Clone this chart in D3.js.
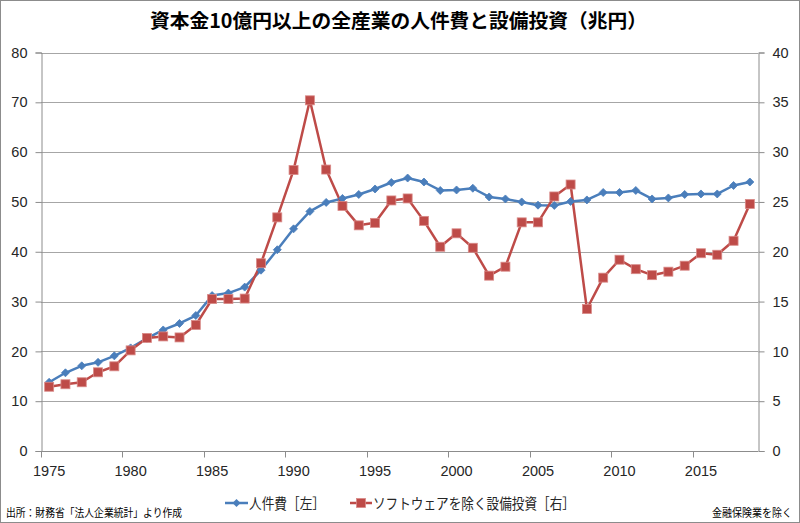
<!DOCTYPE html>
<html><head><meta charset="utf-8">
<script src="https://cdn.jsdelivr.net/npm/d3@7"></script>
<style>body{margin:0;background:#fff}svg{display:block}</style>
</head><body>
<script>
const years = d3.range(1975, 2019);
const personnel = [13.8,15.7,17.1,17.8,19.1,20.7,22.6,24.3,25.6,27.2,31.2,31.7,32.9,36.3,40.4,44.6,48.1,49.9,50.7,51.5,52.6,53.9,54.8,54.0,52.3,52.4,52.75,51.0,50.6,50.0,49.35,49.3,50.1,50.4,51.9,51.9,52.3,50.6,50.8,51.5,51.6,51.6,53.3,54.0];
const capex = [6.45,6.7,6.9,7.9,8.5,10.1,11.35,11.5,11.4,12.65,15.25,15.25,15.3,18.85,23.45,28.2,35.2,28.25,24.6,22.65,22.9,25.15,25.35,23.1,20.5,21.85,20.4,17.6,18.5,22.95,22.95,25.55,26.75,14.25,17.4,19.2,18.25,17.65,18.0,18.6,19.85,19.7,21.1,24.8];
const leftTicks = [0,10,20,30,40,50,60,70,80];
const rightTicks = [0,5,10,15,20,25,30,35,40];
const xLabelYears = [1975,1980,1985,1990,1995,2000,2005,2010,2015];
const title = "資本金10億円以上の全産業の人件費と設備投資（兆円）";
const legendNames = ["人件費［左］","ソフトウェアを除く設備投資［右］"];
const source = "出所：財務省「法人企業統計」より作成";
const note = "金融保険業を除く";

const W=800,H=523;
const blue="#4A7EBB", red="#BE4B48";
const svg=d3.select("body").append("svg").attr("width",W).attr("height",H);
svg.append("rect").attr("x",0.5).attr("y",0.5).attr("width",W-1).attr("height",H-1).attr("fill","#fff").attr("stroke","#8c8c8c");

const L=41,R=758,T=52.5,B=451;
const x=d3.scaleBand().domain(years).range([L,R]);
const yL=d3.scaleLinear().domain([0,80]).range([B,T]);
const yR=d3.scaleLinear().domain([0,40]).range([B,T]);
const cx=d=>x(d)+x.bandwidth()/2;
const font="'Liberation Sans','Noto Sans',sans-serif";
const jfont="'Noto Sans CJK JP',sans-serif";

// gridlines
svg.append("g").selectAll("line").data(leftTicks.slice(1)).join("line")
 .attr("x1",L).attr("x2",R).attr("y1",d=>Math.round(yL(d))+0.5).attr("y2",d=>Math.round(yL(d))+0.5)
 .attr("stroke","#a6a6a6").attr("stroke-width",1);

// left axis
const gl=svg.append("g").attr("transform",`translate(${L+0.5},0)`)
 .call(d3.axisLeft(yL).tickValues(leftTicks).tickSize(6).tickPadding(8));
// right axis
const gr=svg.append("g").attr("transform",`translate(${R+0.5},0)`)
 .call(d3.axisRight(yR).tickValues(rightTicks).tickSize(6).tickPadding(8));
// bottom axis
const tickYears=years.filter(y=>(y-1975)%5===0);
const gb=svg.append("g").attr("transform",`translate(0,${B+0.5})`);
gb.append("line").attr("x1",L).attr("x2",R).attr("stroke","#8c8c8c");
gb.selectAll("line.t").data(tickYears).join("line").attr("class","t")
 .attr("x1",d=>Math.round(x(d))+0.5).attr("x2",d=>Math.round(x(d))+0.5).attr("y1",0).attr("y2",6).attr("stroke","#8c8c8c");
gb.selectAll("text").data(xLabelYears).join("text")
 .attr("x",d=>cx(d)).attr("y",24).attr("text-anchor","middle").text(d=>d);

[gl,gr].forEach(g=>{g.select(".domain").attr("stroke","#8c8c8c");g.selectAll(".tick line").attr("stroke","#8c8c8c");});
svg.selectAll("text").attr("font-family",font).attr("font-size",14.5).attr("fill","#262626");
gl.attr("font-family",font).attr("font-size",14.5);
gr.attr("font-family",font).attr("font-size",14.5);

// lines
const lineL=d3.line().x((d,i)=>cx(years[i])).y(d=>yL(d));
const lineR=d3.line().x((d,i)=>cx(years[i])).y(d=>yR(d));
svg.append("path").datum(personnel).attr("d",lineL).attr("fill","none").attr("stroke",blue).attr("stroke-width",2.5).attr("stroke-linejoin","round");
svg.append("path").datum(capex).attr("d",lineR).attr("fill","none").attr("stroke",red).attr("stroke-width",2.5).attr("stroke-linejoin","round");
// markers
const diamond=(cxv,cyv,s)=>`M${cxv},${cyv-s}L${cxv+s},${cyv}L${cxv},${cyv+s}L${cxv-s},${cyv}Z`;
svg.append("g").selectAll("path").data(personnel).join("path")
 .attr("d",(d,i)=>diamond(cx(years[i]),yL(d),4)).attr("fill",blue).attr("stroke",blue).attr("stroke-width",0.8);
svg.append("g").selectAll("rect").data(capex).join("rect")
 .attr("x",(d,i)=>cx(years[i])-4.5).attr("y",d=>yR(d)-4.5).attr("width",9).attr("height",9)
 .attr("fill",red).attr("stroke","#d98a88").attr("stroke-width",0.8);

// title
svg.append("text").attr("x",150).attr("y",28).attr("textLength",497).attr("lengthAdjust","spacingAndGlyphs")
 .attr("font-family",jfont).attr("font-weight","bold").attr("font-size",19.5).attr("fill","#000").text(title);

// legend
const ly=503;
const lg=svg.append("g");
lg.append("line").attr("x1",225).attr("x2",248).attr("y1",ly).attr("y2",ly).attr("stroke",blue).attr("stroke-width",2.5);
lg.append("path").attr("d",diamond(236.5,ly,4)).attr("fill",blue);
lg.append("text").attr("x",249).attr("y",ly+5.5).attr("textLength",76).attr("lengthAdjust","spacingAndGlyphs")
 .attr("font-family",jfont).attr("font-size",14.5).attr("fill","#262626").text(legendNames[0]);
lg.append("line").attr("x1",350).attr("x2",372).attr("y1",ly).attr("y2",ly).attr("stroke",red).attr("stroke-width",2.5);
lg.append("rect").attr("x",356.5).attr("y",ly-4.5).attr("width",9).attr("height",9).attr("fill",red).attr("stroke","#d98a88").attr("stroke-width",0.8);
lg.append("text").attr("x",373).attr("y",ly+5.5).attr("textLength",202).attr("lengthAdjust","spacingAndGlyphs")
 .attr("font-family",jfont).attr("font-size",14.5).attr("fill","#262626").text(legendNames[1]);

// footer
svg.append("text").attr("x",6).attr("y",517).attr("textLength",176).attr("lengthAdjust","spacingAndGlyphs")
 .attr("font-family",jfont).attr("font-size",11).attr("fill","#000").text(source);
svg.append("text").attr("x",712).attr("y",517).attr("textLength",80).attr("lengthAdjust","spacingAndGlyphs")
 .attr("font-family",jfont).attr("font-size",11).attr("fill","#000").text(note);
</script>
</body></html>
